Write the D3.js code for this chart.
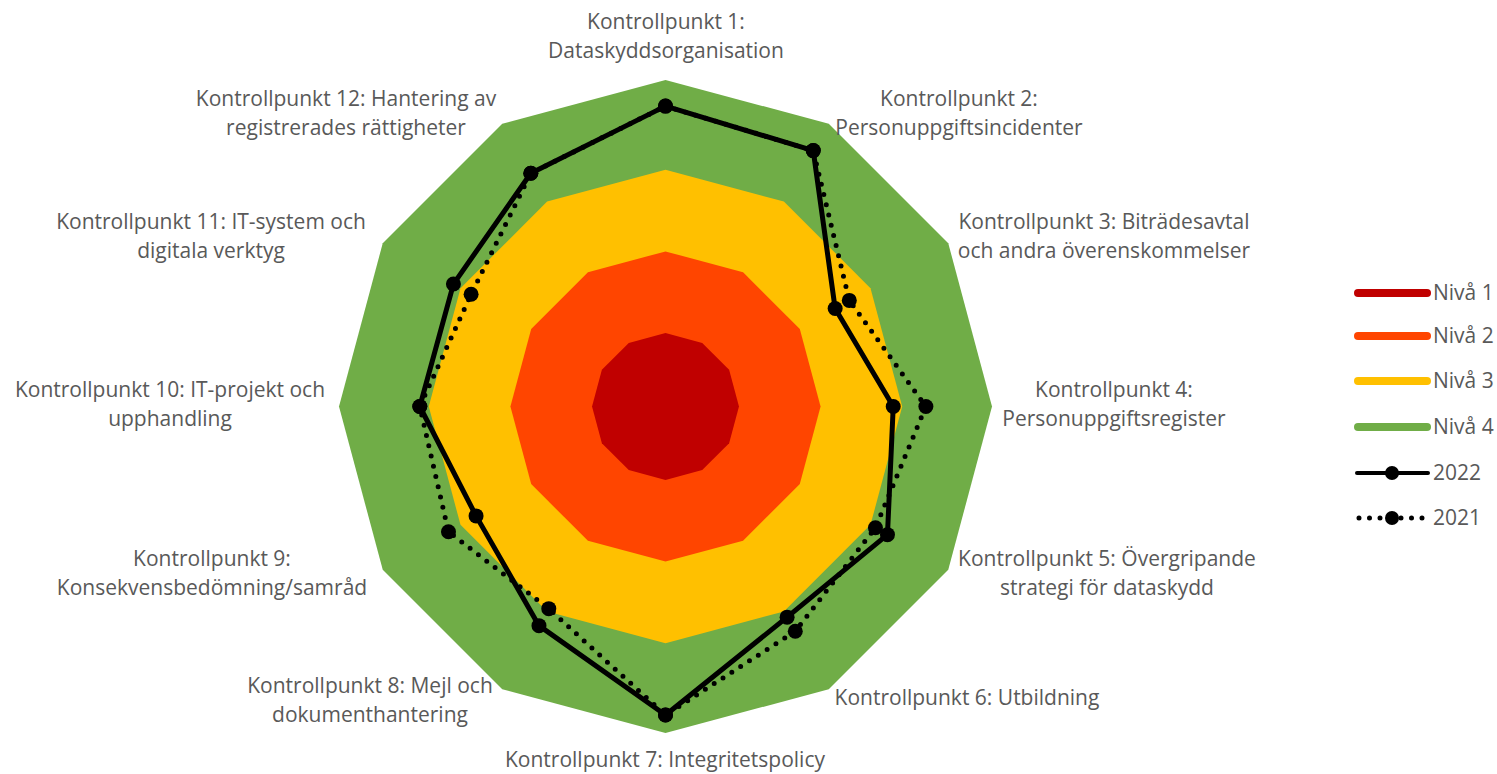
<!DOCTYPE html>
<html>
<head>
<meta charset="utf-8">
<script src="https://cdn.jsdelivr.net/npm/d3@7"></script>
<style>
  body { margin: 0; background: #fff; }
  text { font-family: "Open Sans", "Noto Sans", sans-serif; fill: #595959; }
</style>
</head>
<body>
<div id="chart"></div>
<script>
// chart data
var categories = [
    ["Kontrollpunkt 1:", "Dataskyddsorganisation"],
    ["Kontrollpunkt 2:", "Personuppgiftsincidenter"],
    ["Kontrollpunkt 3: Biträdesavtal", "och andra överenskommelser"],
    ["Kontrollpunkt 4:", "Personuppgiftsregister"],
    ["Kontrollpunkt 5: Övergripande", "strategi för dataskydd"],
    ["Kontrollpunkt 6: Utbildning"],
    ["Kontrollpunkt 7: Integritetspolicy"],
    ["Kontrollpunkt 8: Mejl och", "dokumenthantering"],
    ["Kontrollpunkt 9:", "Konsekvensbedömning/samråd"],
    ["Kontrollpunkt 10: IT-projekt och", "upphandling"],
    ["Kontrollpunkt 11: IT-system och", "digitala verktyg"],
    ["Kontrollpunkt 12: Hantering av", "registrerades rättigheter"]
];
var levelNames = ["Nivå 1", "Nivå 2", "Nivå 3", "Nivå 4"];
var levelValues = [0.9, 1.9, 2.9, 4.0];
var levelColors = ["#C00000", "#FF4500", "#FFC000", "#70AD47"];
var values2022 = [3.68, 3.62, 2.4, 2.79, 3.14, 2.98, 3.78, 3.1, 2.68, 3.01, 3.0, 3.3];
var values2021 = [3.68, 3.62, 2.6, 3.19, 2.97, 3.18, 3.78, 2.86, 3.07, 3.01, 2.75, 3.3];

var svgWidth = 1497;
var svgHeight = 774;
var cx = 665.5, cy = 406.5;

var svg = d3.select("#chart").append("svg")
    .attr("width", svgWidth)
    .attr("height", svgHeight);

var g = svg.append("g").attr("transform", `translate(${cx},${cy})`);

var rScale = d3.scaleLinear().domain([0, 4]).range([0, 326.5]);
var n = categories.length;
var angle = i => i * 2 * Math.PI / n;

var radial = d3.lineRadial()
    .angle((d, i) => angle(i))
    .radius(d => rScale(d))
    .curve(d3.curveLinearClosed);

// level fills, biggest first
for (var k = levelValues.length - 1; k >= 0; k--) {
    var ring = categories.map(() => levelValues[k]);
    g.append("path")
        .attr("d", radial(ring))
        .attr("fill", levelColors[k]);
}

function point(v, i) {
    var a = angle(i), r = rScale(v);
    return [r * Math.sin(a), -r * Math.cos(a)];
}

// 2022 solid
g.append("path")
    .attr("d", radial(values2022))
    .attr("fill", "none")
    .attr("stroke", "#000")
    .attr("stroke-width", 5)
    .attr("stroke-linejoin", "round");
g.selectAll(".m22").data(values2022).enter().append("circle")
    .attr("cx", (d, i) => point(d, i)[0])
    .attr("cy", (d, i) => point(d, i)[1])
    .attr("r", 7.5)
    .attr("fill", "#000");

// 2021 dotted
g.append("path")
    .attr("d", radial(values2021))
    .attr("fill", "none")
    .attr("stroke", "#000")
    .attr("stroke-width", 5)
    .attr("stroke-linecap", "round")
    .attr("stroke-dasharray", "0 10.5");
g.selectAll(".m21").data(values2021).enter().append("circle")
    .attr("cx", (d, i) => point(d, i)[0])
    .attr("cy", (d, i) => point(d, i)[1])
    .attr("r", 7.5)
    .attr("fill", "#000");

// category labels
var labelPos = [
    [666, 22], [959, 99], [1104, 222], [1114, 390], [1107, 559], [967, 698],
    [665, 760], [370, 686], [212, 559], [170, 390], [211, 222], [346, 99]
];
categories.forEach(function(lines, i) {
    var t = svg.append("text")
        .attr("text-anchor", "middle")
        .attr("font-size", 21);
    lines.forEach(function(line, j) {
        t.append("tspan")
            .attr("x", labelPos[i][0])
            .attr("y", labelPos[i][1] + j * 29)
            .attr("dy", "0.35em")
            .text(line);
    });
});

// legend
var legend = svg.append("g").attr("transform", "translate(1355,0)");
var rowsY = [293, 336, 381, 427, 473, 518];
levelNames.forEach(function(name, i) {
    legend.append("line")
        .attr("x1", 3).attr("x2", 72)
        .attr("y1", rowsY[i]).attr("y2", rowsY[i])
        .attr("stroke", levelColors[i])
        .attr("stroke-width", 8)
        .attr("stroke-linecap", "round");
    legend.append("text")
        .attr("x", 78).attr("y", rowsY[i]).attr("dy", "0.35em")
        .attr("font-size", 21)
        .text(name);
});
var yearRows = [["2022", null], ["2021", "0 10.5"]];
yearRows.forEach(function(yr, j) {
    var y = rowsY[4 + j];
    legend.append("line")
        .attr("x1", yr[1] ? 4 : 2).attr("x2", yr[1] ? 72 : 73)
        .attr("y1", y).attr("y2", y)
        .attr("stroke", "#000")
        .attr("stroke-width", yr[1] ? 5 : 4)
        .attr("stroke-linecap", "round")
        .attr("stroke-dasharray", yr[1]);
    legend.append("circle")
        .attr("cx", 37).attr("cy", y).attr("r", 7)
        .attr("fill", "#000");
    legend.append("text")
        .attr("x", 78).attr("y", y).attr("dy", "0.35em")
        .attr("font-size", 21)
        .text(yr[0]);
});
</script>
</body>
</html>
